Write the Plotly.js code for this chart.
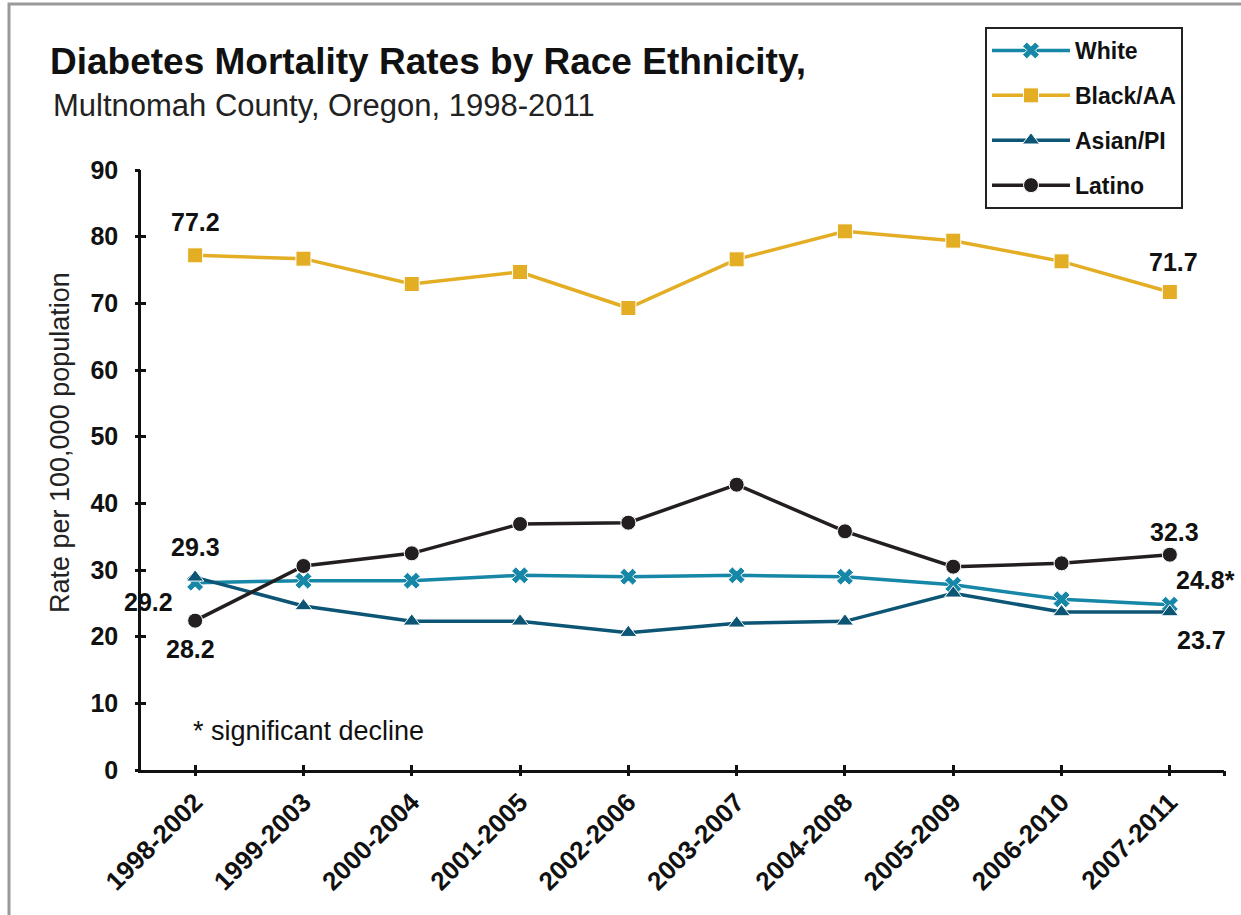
<!DOCTYPE html>
<html>
<head>
<meta charset="utf-8">
<script src="https://cdn.plot.ly/plotly-3.0.1.min.js"></script>
<style>
  html, body { margin: 0; padding: 0; background: #ffffff; }
  #chart { width: 1241px; height: 915px; }
</style>
</head>
<body>
<div id="chart"></div>
<script>
// ---- data ----
const periods = ["1998-2002", "1999-2003", "2000-2004", "2001-2005", "2002-2006",
                 "2003-2007", "2004-2008", "2005-2009", "2006-2010", "2007-2011"];
const white  = [28.1, 28.4, 28.4, 29.2, 29.0, 29.2, 29.0, 27.8, 25.6, 24.8];
const black  = [77.2, 76.7, 72.9, 74.7, 69.3, 76.6, 80.8, 79.4, 76.3, 71.7];
const asian  = [28.9, 24.6, 22.3, 22.3, 20.6, 22.0, 22.3, 26.5, 23.7, 23.7];
const latino = [22.4, 30.6, 32.5, 36.9, 37.1, 42.8, 35.8, 30.5, 31.0, 32.3];
const yTicks = [0, 10, 20, 30, 40, 50, 60, 70, 80, 90];

const seriesNames = ["White", "Black/AA", "Asian/PI", "Latino"];

// value labels: [series index, point index, text]
const labelTexts = ["77.2", "71.7", "29.3", "29.2", "28.2", "32.3", "24.8*", "23.7"];
const labelSeries = [1, 1, 2, 0, 3, 3, 0, 2];
const labelPoints = [0, 9, 0, 0, 0, 9, 9, 9];

const noteText = "* significant decline";
const noteY = 5.9;

// ---- styles ----
const colors = ["#1687a7", "#e4ae24", "#0c5574", "#231f20"];
const symbols = ["x", "square", "triangle-up", "circle"];
const msizes = [15, 15, 15, 15];
const FONT = "'Liberation Sans', Arial, sans-serif";

const allSeries = [white, black, asian, latino];

const traces = allSeries.map((vals, i) => ({
  type: "scatter",
  mode: "lines+markers",
  name: seriesNames[i],
  legendgroup: "g" + i,
  x: periods,
  y: vals,
  line: { color: colors[i], width: 3.5 },
  marker: { symbol: symbols[i], size: msizes[i], color: colors[i],
            line: { color: "#ffffff", width: 1 } },
  cliponaxis: false,
  hoverinfo: "x+y+name"
}));

// invisible helper traces for cross ticks
const idx = periods.map((p, i) => i);
const xTickVals = idx.concat([periods.length - 0.5]);
traces.push({ type: "scatter", x: [0], y: [0], xaxis: "x2", yaxis: "y2",
  mode: "markers", marker: { opacity: 0 }, showlegend: false, hoverinfo: "skip" });
traces.push({ type: "scatter", x: [0], y: [0], xaxis: "x3", yaxis: "y3",
  mode: "markers", marker: { opacity: 0 }, showlegend: false, hoverinfo: "skip" });

const labelShift = [[0, 33], [4, 30], [0, 30], [-47, -19], [-5, -28], [5, 23], [36, 25], [32, -28]];

const annotations = labelTexts.map((t, k) => ({
  x: periods[labelPoints[k]],
  y: allSeries[labelSeries[k]][labelPoints[k]],
  xref: "x", yref: "y",
  text: t, showarrow: false,
  xshift: labelShift[k][0], yshift: labelShift[k][1],
  font: { family: FONT, size: 25, color: "#111111", weight: "bold" }
}));

annotations.push({
  x: periods[0], y: noteY, xref: "x", yref: "y", xanchor: "left",
  text: noteText, showarrow: false, xshift: -4,
  font: { family: FONT, size: 27, color: "#111111" }
});

// subtitle
annotations.push({
  x: (51 - 141) / 1083, y: (770 - 106) / 600, xref: "paper", yref: "paper",
  text: "Multnomah County, Oregon, 1998-2011", showarrow: false,
  xanchor: "left", yanchor: "middle",
  font: { family: FONT, size: 31, color: "#222222" }
});

// y-axis title
annotations.push({
  x: (60 - 141) / 1083, y: (770 - 443) / 600, xref: "paper", yref: "paper",
  text: "Rate per 100,000 population", showarrow: false, textangle: -90,
  xanchor: "center", yanchor: "middle",
  font: { family: FONT, size: 27, color: "#222222" }
});

const R = [-0.5, periods.length - 0.5];

const layout = {
  width: 1241, height: 915,
  paper_bgcolor: "#ffffff", plot_bgcolor: "#ffffff",
  margin: { l: 141, r: 17, t: 170, b: 145 },
  title: {
    text: "Diabetes Mortality Rates by Race Ethnicity,",
    x: 50 / 1241, xanchor: "left", xref: "container",
    y: 1 - 61 / 915, yanchor: "middle", yref: "container",
    font: { family: FONT, size: 37, color: "#111111", weight: "bold" }
  },
  showlegend: true,
  legend: {
    x: (985 - 141) / 1083, y: (770 - 27) / 600, xanchor: "left", yanchor: "top",
    bgcolor: "#ffffff", bordercolor: "#222222", borderwidth: 2,
    font: { family: FONT, size: 23, color: "#111111", weight: "bold" },
    itemwidth: 78, traceorder: "grouped", tracegroupgap: 12,
    itemclick: false, itemdoubleclick: false
  },
  xaxis: {
    type: "category", range: R, showgrid: false, zeroline: false,
    showline: true, linecolor: "#111111", linewidth: 2.5,
    ticks: "", tickangle: -45,
    tickfont: { family: FONT, size: 26, color: "#111111", weight: "bold" },
    ticklabelstandoff: 4, automargin: false, fixedrange: true
  },
  yaxis: {
    range: [0, 90], tickvals: yTicks, showgrid: false, zeroline: false,
    showline: true, linecolor: "#111111", linewidth: 2.5,
    ticks: "", tickfont: { family: FONT, size: 25, color: "#111111", weight: "bold" },
    ticklabelstandoff: 15,
    automargin: false, fixedrange: true
  },
  xaxis2: { overlaying: "x", anchor: "y2", range: R, tickvals: xTickVals, showticklabels: false,
            ticks: "inside", ticklen: 5, tickwidth: 2.5, tickcolor: "#111111",
            showgrid: false, zeroline: false, showline: false, fixedrange: true },
  yaxis2: { overlaying: "y", anchor: "x2", range: [0, 90], tickvals: yTicks, showticklabels: false,
            ticks: "inside", ticklen: 5, tickwidth: 2.5, tickcolor: "#111111",
            showgrid: false, zeroline: false, showline: false, fixedrange: true },
  xaxis3: { overlaying: "x", anchor: "y3", range: R, tickvals: xTickVals, showticklabels: false,
            ticks: "outside", ticklen: 5, tickwidth: 2.5, tickcolor: "#111111",
            showgrid: false, zeroline: false, showline: false, fixedrange: true },
  yaxis3: { overlaying: "y", anchor: "x3", range: [0, 90], tickvals: yTicks, showticklabels: false,
            ticks: "outside", ticklen: 5, tickwidth: 2.5, tickcolor: "#111111",
            showgrid: false, zeroline: false, showline: false, fixedrange: true },
  annotations: annotations,
  shapes: [{
    type: "rect", xref: "paper", yref: "paper",
    x0: (9 - 141) / 1083, x1: 1.1, y0: -0.4, y1: (770 - 4) / 600,
    line: { color: "#9a9a9a", width: 3 }, fillcolor: "rgba(0,0,0,0)", layer: "below"
  }],
  hovermode: "closest"
};

Plotly.newPlot("chart", traces, layout, { staticPlot: false, displayModeBar: false, responsive: false });
</script>
</body>
</html>
